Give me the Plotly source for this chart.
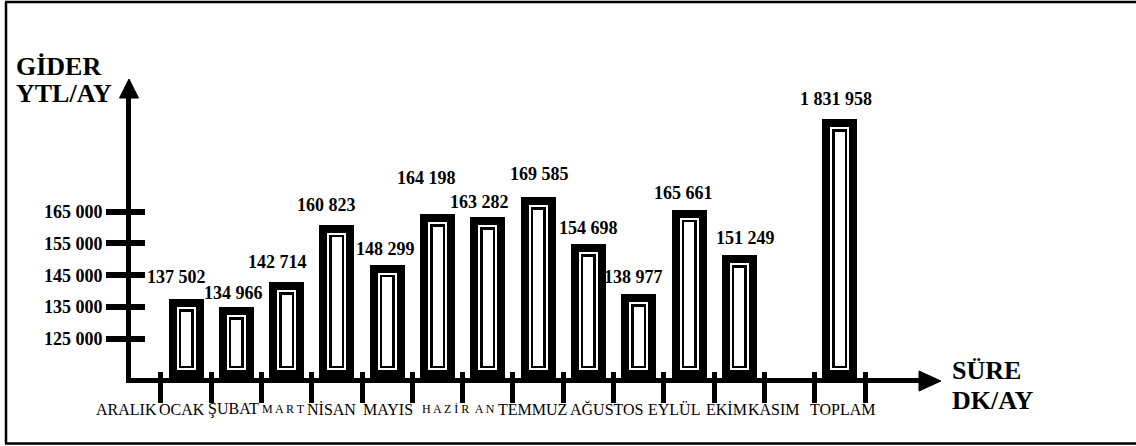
import plotly.graph_objects as go

# ---- data -------------------------------------------------------------
months = ["ARALIK", "OCAK", "ŞUBAT", "MART", "NİSAN", "MAYIS", "HAZİRAN",
          "TEMMUZ", "AĞUSTOS", "EYLÜL", "EKİM", "KASIM"]
spend = [137502, 134966, 142714, 160823, 148299, 164198, 163282,
         169585, 154698, 138977, 165661, 151249]
total_name = "TOPLAM"
total_spend = 1831958
y_ticks = [125000, 135000, 145000, 155000, 165000]

# ---- geometry / style -------------------------------------------------
W, H = 1136, 446
L, R, T, B = 131, 216, 97, 68
plot_w = W - L - R
plot_h = H - T - B
unit_px = 50.3                     # pixels per category step
first_px = 186                     # pixel centre of the first bar
x_lo = 1 - (first_px - L) / unit_px
x_hi = x_lo + plot_w / unit_px
y_lo, y_hi = 112673, 112673 + 314.5 * plot_h
y2_hi = 1987600
FONT = "Liberation Serif"

bar_x = list(range(1, len(spend) + 1))
total_x = len(spend) + 2
tick_x = [k + 0.5 for k in range(0, total_x + 1)]
# label placement along the axis (in category units)
label_x = [-0.19, 0.92, 1.95, 2.93, 3.90, 5.02, 6.41, 7.88, 9.37, 10.70, 11.75, 12.69, 14.06]
# value label nudges in pixels (dx, lift above bar top)
val_dx = [-10, -3, -9, -10, -2, -11, -8, 1, 0, -5, -6, 6, -4]
val_lift = [22, 14, 20, 20, 16, 36, 15, 23, 16, 17, 17, 17, 20]


def fmt(v):
    return f"{v:,}".replace(",", " ")


def px_x(px):
    return (px - L) / plot_w


def px_y(py):
    return (H - B - py) / plot_h


def cat_to_paper(xv):
    return (xv - x_lo) / (x_hi - x_lo)


def label_html(name):
    if name == "MART":
        return "<span style='font-size:12px'>M A R T</span>"
    if name == "HAZİRAN":
        return "<span style='font-size:12px'>H A Z İ R  A N</span>"
    return name


fig = go.Figure()

# framed bars: outer black block, white gap, thin inner outline, white core
layers = [(0, "black"), (8, "white"), (10, "black"), (12.5, "white")]
y_per_px = (y_hi - y_lo) / plot_h
y2_per_px = y2_hi / plot_h
for inset, colour in layers:
    w = (35 - 2 * inset) / unit_px
    base = y_lo + inset * y_per_px
    fig.add_trace(go.Bar(
        x=bar_x, y=[v - inset * y_per_px - base for v in spend], base=base,
        width=w, marker=dict(color=colour, line=dict(width=0)),
        xaxis="x", yaxis="y", hoverinfo="skip", showlegend=False))
    base2 = inset * y2_per_px
    fig.add_trace(go.Bar(
        x=[total_x], y=[total_spend - inset * y2_per_px - base2], base=base2,
        width=w, marker=dict(color=colour, line=dict(width=0)),
        xaxis="x", yaxis="y2", hoverinfo="skip", showlegend=False))

# empty traces so the overlaid inner-tick axes get drawn
for xa, ya in [("x3", "y"), ("x", "y3")]:
    fig.add_trace(go.Scatter(x=[], y=[], xaxis=xa, yaxis=ya, mode="markers",
                             hoverinfo="skip", showlegend=False))

annotations = []
all_vals = spend + [total_spend]
all_x = bar_x + [total_x]
for i, (xv, v) in enumerate(zip(all_x, all_vals)):
    annotations.append(dict(
        x=xv, y=v, xref="x", yref="y2" if i == len(spend) else "y",
        text=f"<b>{fmt(v)}</b>", showarrow=False, yanchor="middle",
        xshift=val_dx[i], yshift=val_lift[i],
        font=dict(family=FONT, size=18, color="black")))

# month names along the time axis
for xv, name in zip(label_x, months + [total_name]):
    annotations.append(dict(
        x=cat_to_paper(xv), y=px_y(409), xref="paper", yref="paper",
        text=label_html(name), showarrow=False, xanchor="center", yanchor="middle",
        font=dict(family=FONT, size=16, color="black")))

for text, px, py in [("GİDER", 14, 66), ("YTL/AY", 14, 94),
                     ("SÜRE", 950, 370), ("DK/AY", 950, 400)]:
    annotations.append(dict(
        x=px_x(px), y=px_y(py), xref="paper", yref="paper",
        text=f"<b>{text}</b>", showarrow=False, xanchor="left", yanchor="middle",
        font=dict(family=FONT, size=26, color="black")))

frame = dict(color="black", width=2.5)
shapes = [
    dict(type="line", xref="paper", yref="paper", x0=px_x(6), x1=px_x(6),
         y0=px_y(443.5), y1=px_y(2), line=frame),
    dict(type="line", xref="paper", yref="paper", x0=px_x(5), x1=px_x(W),
         y0=px_y(2), y1=px_y(2), line=frame),
    dict(type="line", xref="paper", yref="paper", x0=px_x(5), x1=px_x(W),
         y0=px_y(443.5), y1=px_y(443.5), line=frame),
    dict(type="path", xref="paper", yref="paper",
         path=f"M {px_x(129)} {px_y(79)} L {px_x(119.5)} {px_y(98)} L {px_x(138.5)} {px_y(98)} Z",
         fillcolor="black", line=dict(color="black", width=1)),
    dict(type="path", xref="paper", yref="paper",
         path=f"M {px_x(941)} {px_y(381)} L {px_x(919)} {px_y(371)} L {px_x(919)} {px_y(391)} Z",
         fillcolor="black", line=dict(color="black", width=1)),
]

axis_common = dict(showgrid=False, zeroline=False, automargin=False, fixedrange=True)

fig.update_layout(
    width=W, height=H, margin=dict(l=L, r=R, t=T, b=B, autoexpand=False),
    paper_bgcolor="white", plot_bgcolor="white",
    barmode="overlay", bargap=0, showlegend=False,
    font=dict(family=FONT, color="black"),
    xaxis=dict(range=[x_lo, x_hi], showline=True, linewidth=5, linecolor="black",
               ticks="outside", tickvals=tick_x, ticklen=20, tickwidth=5,
               tickcolor="black", showticklabels=False, **axis_common),
    xaxis3=dict(range=[x_lo, x_hi], overlaying="x", anchor="y",
                tickvals=tick_x, ticks="inside", ticklen=6, tickwidth=5,
                tickcolor="black", showticklabels=False, showline=False, **axis_common),
    yaxis=dict(range=[y_lo, y_hi], showline=True, linewidth=5, linecolor="black",
               ticks="outside", tickvals=y_ticks, ticktext=[f"<b>{fmt(v)}</b>" for v in y_ticks],
               ticklen=20, tickwidth=6, tickcolor="black",
               tickfont=dict(family=FONT, size=18, color="black"), **axis_common),
    yaxis2=dict(range=[0, y2_hi], overlaying="y", anchor="x", visible=False, **axis_common),
    yaxis3=dict(range=[y_lo, y_hi], overlaying="y", anchor="x",
                tickvals=y_ticks, ticks="inside", ticklen=14, tickwidth=6,
                tickcolor="black", showticklabels=False, showline=False, **axis_common),
    annotations=annotations, shapes=shapes,
)

fig.write_html(
    "out.html",
    config={"displayModeBar": False},
    post_script="document.documentElement.style.overflow='hidden';"
                "document.body.style.overflow='hidden';"
                "document.body.style.margin='0';",
)
